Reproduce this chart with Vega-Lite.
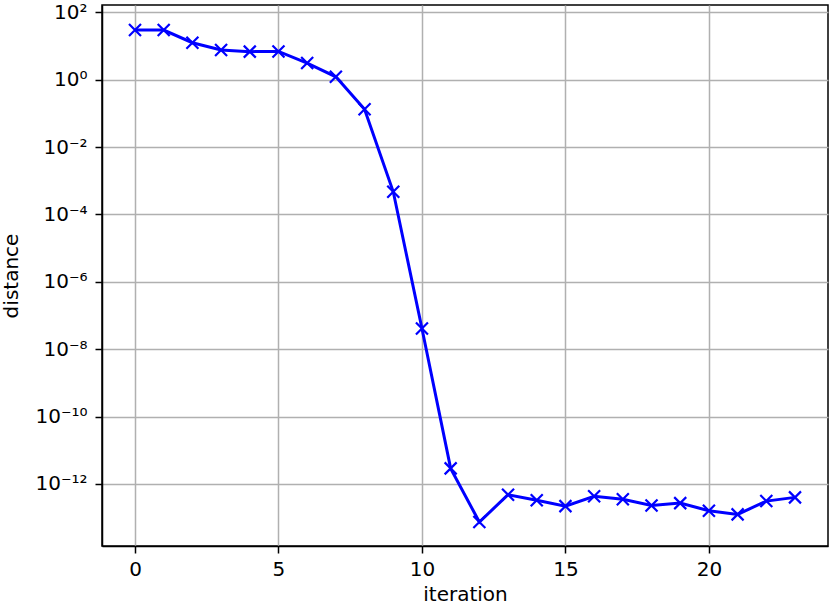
{
  "$schema": "https://vega.github.io/schema/vega-lite/v6.json",
  "width": 726,
  "height": 541,
  "autosize": {"type": "none"},
  "padding": {"left": 102, "top": 5, "right": 3, "bottom": 65},
  "background": "white",
  "config": {
    "view": {"stroke": "black", "strokeWidth": 1.5},
    "font": "DejaVu Sans",
    "axis": {
      "labelFont": "DejaVu Sans",
      "titleFont": "DejaVu Sans",
      "labelFontSize": 20,
      "titleFontSize": 20,
      "titleFontWeight": "normal",
      "labelColor": "black",
      "titleColor": "black",
      "domainColor": "black",
      "domainWidth": 1.5,
      "tickColor": "black",
      "tickWidth": 1.5,
      "tickSize": 7,
      "gridColor": "#b0b0b0",
      "gridWidth": 1.5,
      "gridOpacity": 1
    }
  },
  "data": {
    "values": [
      {"iteration": 0, "distance": 29.8},
      {"iteration": 1, "distance": 29.8},
      {"iteration": 2, "distance": 12.5},
      {"iteration": 3, "distance": 7.6},
      {"iteration": 4, "distance": 6.8},
      {"iteration": 5, "distance": 6.9},
      {"iteration": 6, "distance": 3.12},
      {"iteration": 7, "distance": 1.22},
      {"iteration": 8, "distance": 0.132},
      {"iteration": 9, "distance": 4.7e-4},
      {"iteration": 10, "distance": 4.1e-8},
      {"iteration": 11, "distance": 2.9e-12},
      {"iteration": 12, "distance": 7.4e-14},
      {"iteration": 13, "distance": 4.8e-13},
      {"iteration": 14, "distance": 3.3e-13},
      {"iteration": 15, "distance": 2.2e-13},
      {"iteration": 16, "distance": 4.3e-13},
      {"iteration": 17, "distance": 3.5e-13},
      {"iteration": 18, "distance": 2.3e-13},
      {"iteration": 19, "distance": 2.7e-13},
      {"iteration": 20, "distance": 1.6e-13},
      {"iteration": 21, "distance": 1.25e-13},
      {"iteration": 22, "distance": 3.1e-13},
      {"iteration": 23, "distance": 4.0e-13}
    ]
  },
  "encoding": {
    "x": {
      "field": "iteration",
      "type": "quantitative",
      "scale": {"domain": [-1.15, 24.15], "nice": false, "zero": false},
      "axis": {
        "values": [0, 5, 10, 15, 20],
        "title": "iteration",
        "labelPadding": 6,
        "titlePadding": 5,
        "labelFlush": false
      }
    },
    "y": {
      "field": "distance",
      "type": "quantitative",
      "scale": {"type": "log", "domain": [1.44e-14, 164.8], "nice": false},
      "axis": {
        "values": [100, 1, 0.01, 0.0001, 1e-6, 1e-8, 1e-10, 1e-12],
        "labelExpr": "'10' + ['²','⁰','⁻²','⁻⁴','⁻⁶','⁻⁸','⁻¹⁰','⁻¹²'][round((2 - round(log(datum.value)/LN10))/2)]",
        "title": "distance",
        "labelPadding": 8,
        "titlePadding": 13,
        "labelFlush": false
      }
    }
  },
  "layer": [
    {
      "mark": {"type": "line", "color": "#0000ff", "strokeWidth": 3, "clip": true}
    },
    {
      "mark": {
        "type": "point",
        "shape": "M-1,-1L1,1M-1,1L1,-1",
        "filled": false,
        "color": "#0000ff",
        "stroke": "#0000ff",
        "strokeWidth": 2.2,
        "size": 144,
        "opacity": 1
      }
    }
  ]
}
